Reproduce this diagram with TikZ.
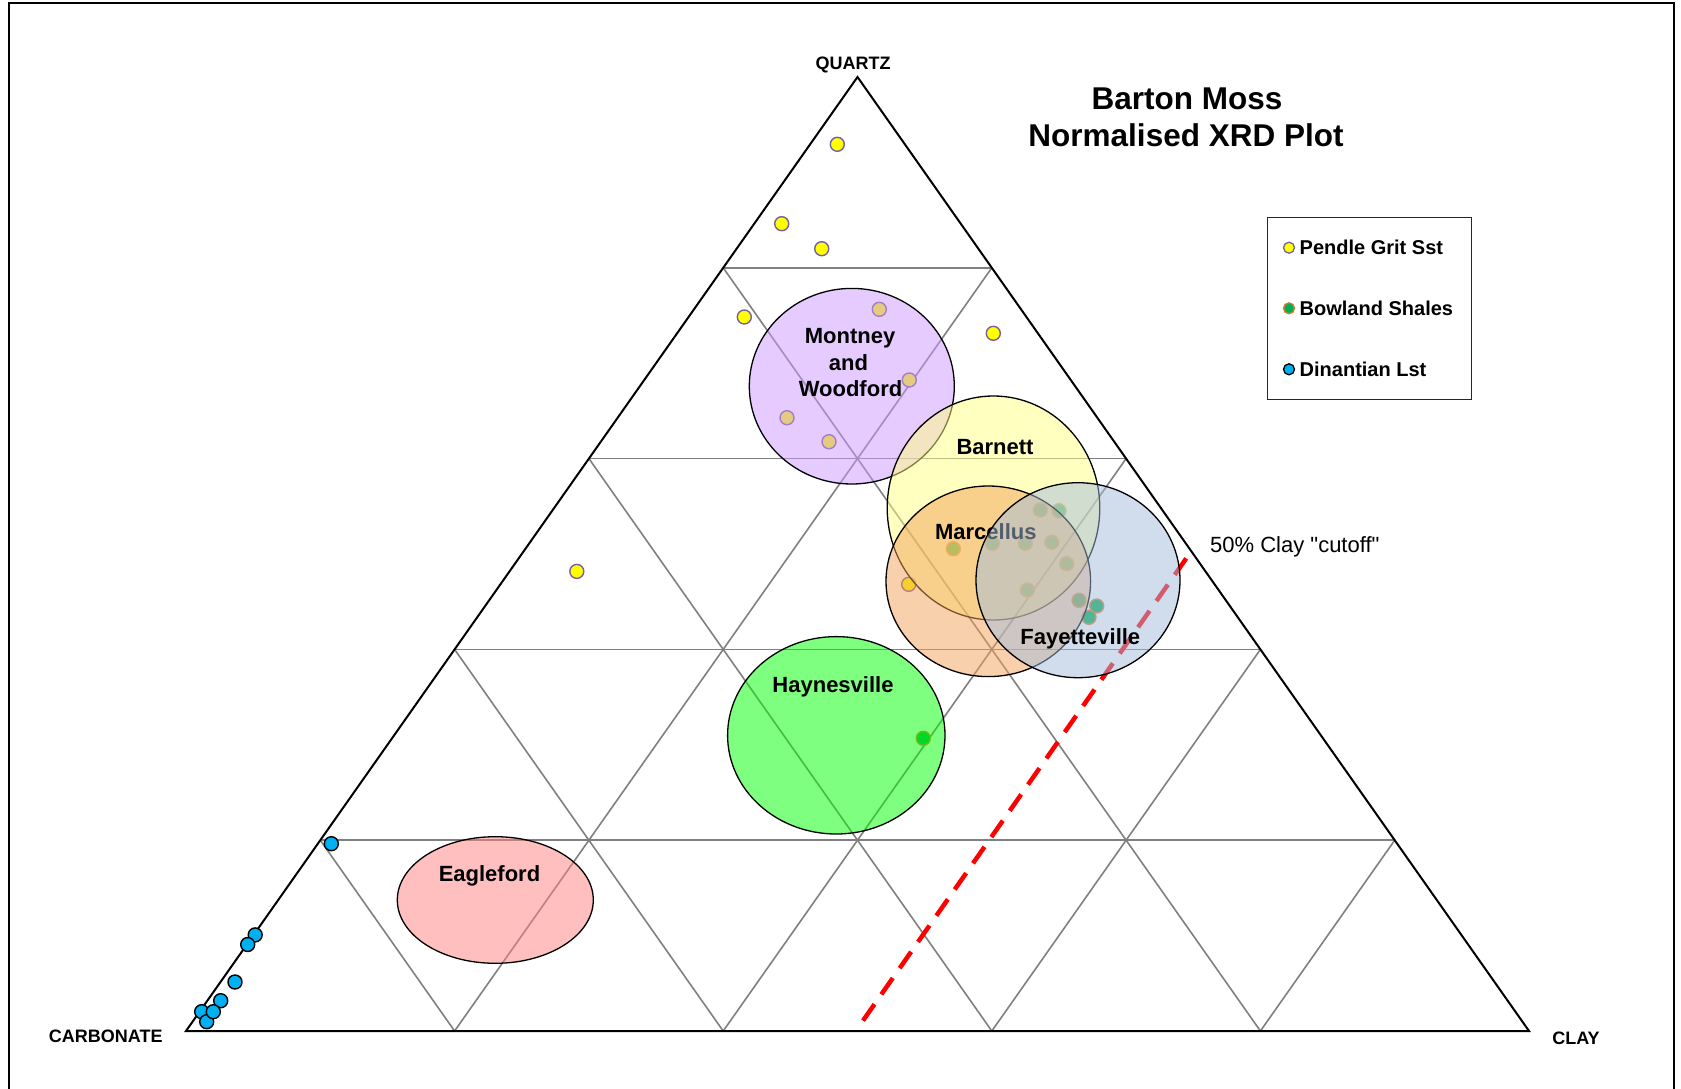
\documentclass[tikz,border=0pt]{standalone}
\usepackage{fontspec}
\setmainfont{Liberation Sans}
\newfontfamily\rawsans{Liberation Sans}
\usetikzlibrary{calc}
\definecolor{gridgray}{RGB}{128,128,128}
\definecolor{ptyellow}{RGB}{255,255,0}
\definecolor{ptpurple}{RGB}{120,96,160}
\definecolor{ptgreen}{RGB}{0,176,80}
\definecolor{ptorange}{RGB}{224,120,48}
\definecolor{ptblue}{RGB}{0,176,240}
\definecolor{cutred}{RGB}{255,0,0}
\definecolor{fmont}{RGB}{204,153,255}
\definecolor{fbarn}{RGB}{255,255,128}
\definecolor{fmarc}{RGB}{242,162,90}
\definecolor{ffay}{RGB}{165,189,221}
\definecolor{fhay}{RGB}{0,255,0}
\definecolor{feag}{RGB}{255,128,128}
\tikzset{
  gridline/.style={draw=gridgray, line width=1.6pt},
  datapt/.style={circle, inner sep=0pt, minimum size=14pt, line width=1.4pt},
  ypt/.style={datapt, fill=ptyellow, draw=ptpurple},
  gpt/.style={datapt, fill=ptgreen, draw=ptorange},
  bpt/.style={datapt, fill=ptblue, draw=black},
  legpt/.style={circle, inner sep=0pt, minimum size=11pt, line width=1.3pt},
  blob/.style={fill opacity=0.5, draw=black, line width=1.3pt},
  blobtxt/.style={font=\fontsize{22}{26}\selectfont\bfseries, anchor=base, inner sep=0pt},
  axistxt/.style={font=\fontsize{18}{22}\selectfont\bfseries, anchor=base, inner sep=0pt},
  titletxt/.style={font=\fontsize{31.5}{38}\selectfont\bfseries, anchor=base, inner sep=0pt},
  legtxt/.style={font=\fontsize{20}{24}\selectfont\bfseries, anchor=base west, inner sep=0pt},
}
\begin{document}
\begin{tikzpicture}[x=1pt,y=-1pt]
\useasboundingbox (0,0) rectangle (1681,1089);
\fill[white] (0,0) rectangle (1681,1089);
\draw[line width=2.5pt] (9,1095) -- (9,3) -- (1674,3) -- (1674,1095);

% triangle vertices
\coordinate (Cb) at (186,1031);
\coordinate (Cl) at (1529,1031);
\coordinate (Q) at (857.5,77);

% grid
\foreach \k in {0.2,0.4,0.6,0.8} {
  \draw[gridline] ($(Cb)!\k!(Q)$) -- ($(Cl)!\k!(Q)$);
  \draw[gridline] ($(Cb)!\k!(Cl)$) -- ($(Q)!\k!(Cl)$);
  \draw[gridline] ($(Cl)!\k!(Cb)$) -- ($(Q)!\k!(Cb)$);
}
\draw[line width=2pt, line join=miter] (Cb) -- (Cl) -- (Q) -- cycle;

% 50% clay cutoff
\coordinate (r1) at (863,1020.6);
\coordinate (r2) at (1186.5,558);
\draw[cutred, line width=4.5pt, dash pattern=on 20pt off 12pt] (r1) -- (r2);

% Pendle Grit Sst points
\foreach \n/\x/\y in {1/837.3/144.3, 2/781.7/223.7, 3/821.7/248.7, 4/744.3/317,
  5/993.3/333.3, 6/879.3/309.3, 7/909.3/380, 8/787/417.7, 9/829/441.7,
  10/576.8/571.4, 11/908.7/584.3}
  \node[ypt] (y\n) at (\x,\y) {};

% Bowland Shales points
\foreach \n/\x/\y in {1/953.3/548.7, 2/1040.3/510, 3/1059/510.7, 4/992.3/543.3,
  5/1025.3/543.3, 6/1051.7/542.3, 7/1066.7/563.7, 8/1027.3/590, 9/1079/600.3,
  10/1096.7/606, 11/1089/617.3, 12/923.3/738.3}
  \node[gpt] (g\n) at (\x,\y) {};

% Dinantian Lst points
\foreach \n/\x/\y in {1/331.3/843.7, 2/255.2/934.9, 3/247.7/944.5, 4/235/982,
  5/220.7/1000.7, 7/201.7/1011.7, 8/206.7/1021.7, 6/213.3/1011.7}
  \node[bpt] (b\n) at (\x,\y) {};

% fields
\filldraw[blob, fill=feag] (495.3,900) ellipse [x radius=98, y radius=63.3];
\node[blobtxt] (eag) at (489.5,881.2) {Eagleford};

\filldraw[blob, fill=fhay] (836.3,735.3) ellipse [x radius=108.7, y radius=98.7];
\node[blobtxt] (hay) at (833,692.1) {Haynesville};

\filldraw[blob, fill=fmont] (851.8,386.2) ellipse [x radius=102.5, y radius=97.8];
\node[blobtxt] (mon1) at (850,343.5) {Montney};
\node[blobtxt] (mon2) at (848.5,370) {and};
\node[blobtxt] (mon3) at (850.5,396.5) {Woodford};

\filldraw[blob, fill=fbarn] (993.5,508) ellipse [x radius=106.3, y radius=112];
\node[blobtxt] (barn) at (995,454.9) {Barnett};

\filldraw[blob, fill=fmarc] (988.3,581.3) ellipse [x radius=102.3, y radius=95.3];
\node[blobtxt] (marc) at (985.8,539.9) {Marcellus};

\filldraw[blob, fill=ffay] (1078,580.2) ellipse [x radius=102, y radius=97.5];
\node[blobtxt] (fay) at (1080.3,644.9) {Fayetteville};

% axis labels
\node[axistxt] (quartz) at (853,69.3) {QUARTZ};
\node[axistxt] (carb) at (105.8,1042.3) {CARBONATE};
\node[axistxt] (clay) at (1576,1044.5) {CLAY};

% title
\node[titletxt] (t1) at (1187,109.5) {Barton Moss};
\node[titletxt] (t2) at (1186,146.5) {Normalised XRD Plot};

% cutoff label
\node[font=\rawsans\fontsize{22}{26}\selectfont, anchor=base west, inner sep=0pt] (cut) at (1210,552.5) {50\% Clay "cutoff"};

% legend
\node[draw=black!85, line width=1pt, minimum width=204pt, minimum height=182pt,
      inner sep=0pt, anchor=north west] (legend) at (1267,217) {};
\node[legpt, fill=ptyellow, draw=ptpurple] (l1) at (1289,247.7) {};
\node[legpt, fill=ptgreen, draw=ptorange] (l2) at (1289,308.3) {};
\node[legpt, fill=ptblue, draw=black] (l3) at (1289,369.3) {};
\node[legtxt] (lt1) at (1299.5,254.5) {Pendle Grit Sst};
\node[legtxt] (lt2) at (1299.5,315.5) {Bowland Shales};
\node[legtxt] (lt3) at (1299.5,376.5) {Dinantian Lst};
\end{tikzpicture}
\end{document}
